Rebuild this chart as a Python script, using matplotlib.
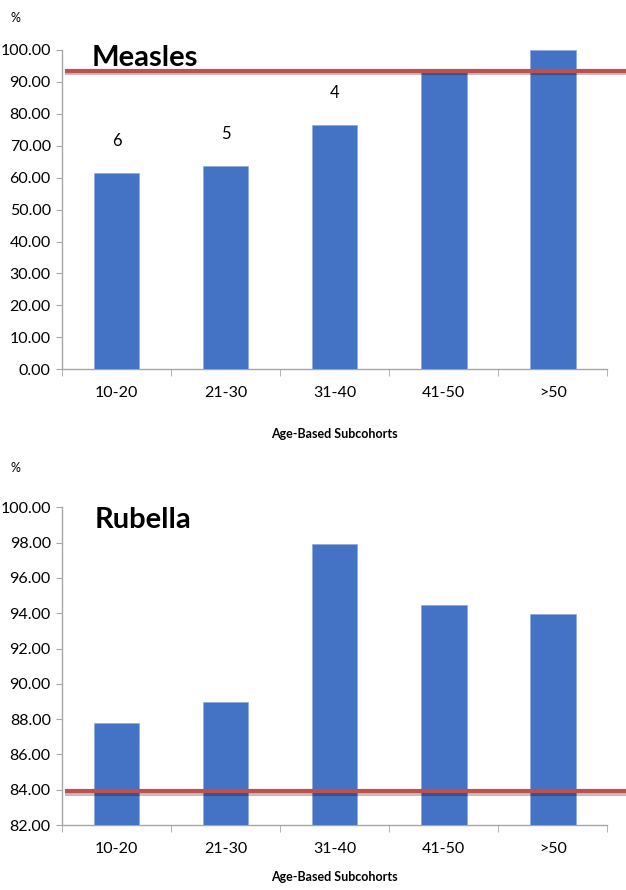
import numpy as np
import matplotlib.pyplot as plt
import matplotlib.patheffects as pe

plt.rcParams['font.family'] = ['Lato', 'DejaVu Sans']

groups = ['10-20', '21-30', '31-40', '41-50', '>50']
measles = [61.4, 63.6, 76.6, 93.5, 99.8]
measles_counts = ['6', '5', '4', '', '']
measles_target = 93.4
rubella = [87.8, 88.95, 97.9, 94.45, 93.97]
rubella_target = 83.9

bar_color = '#4472C4'
line_color = '#C0504D'
axis_color = '#A6A6A6'

fig = plt.figure(figsize=(6.26, 8.90), dpi=100)
ax1 = fig.add_axes([0.099, 0.585, 0.871, 0.359])
ax2 = fig.add_axes([0.099, 0.073, 0.871, 0.357])


def style(ax, ylim, step, labelpad):
    x = np.arange(len(groups))
    ax.set_xlim(-0.5, len(groups) - 0.5)
    ax.set_ylim(*ylim)
    ax.set_yticks(np.arange(ylim[0], ylim[1] + 0.01, step))
    ax.set_yticklabels(['%.2f' % v for v in np.arange(ylim[0], ylim[1] + 0.01, step)])
    ax.set_xticks(x)
    ax.set_xticklabels(groups)
    ax.set_xticks(np.arange(-0.5, len(groups)), minor=True)
    ax.tick_params(axis='x', which='major', length=0, pad=12, labelsize=11.5)
    ax.tick_params(axis='x', which='minor', length=5, color=axis_color, direction='out')
    ax.tick_params(axis='y', length=4, color=axis_color, labelsize=11.5, pad=4)
    for s in ['top', 'right']:
        ax.spines[s].set_visible(False)
    for s in ['left', 'bottom']:
        ax.spines[s].set_color(axis_color)
        ax.spines[s].set_linewidth(1.0)
    ax.set_xlabel('Age-Based Subcohorts', fontsize=9, fontweight='bold', labelpad=labelpad)


def target(ax, level):
    ax.plot([-0.47, 4.7], [level, level], color=line_color, lw=3, clip_on=False,
            solid_capstyle='butt', zorder=5,
            path_effects=[pe.SimpleLineShadow(offset=(0, -1.5), alpha=0.25), pe.Normal()])


x = np.arange(len(groups))

# measles
ax1.bar(x, measles, width=0.42, color=bar_color, edgecolor='#8EA9DB', linewidth=0.5, zorder=3)
style(ax1, (0, 100), 10, 20)
target(ax1, measles_target)
for xi, v, t in zip(x, measles, measles_counts):
    if t:
        ax1.annotate(t, (xi, v), xytext=(0, 23), textcoords='offset points',
                     ha='center', va='center', fontsize=12)
ax1.text(0.055, 0.975, 'Measles', transform=ax1.transAxes, fontsize=21,
         fontweight='bold', va='center', ha='left', zorder=6)
fig.text(0.025, 0.98, '%', fontsize=9, ha='center', va='center')

# rubella
ax2.bar(x, [v - 82 for v in rubella], bottom=82, width=0.42, color=bar_color,
        edgecolor='#8EA9DB', linewidth=0.5, zorder=3)
style(ax2, (82, 100), 2, 11)
target(ax2, rubella_target)
ax2.text(0.06, 0.96, 'Rubella', transform=ax2.transAxes, fontsize=21,
         fontweight='bold', va='center', ha='left', zorder=6)
fig.text(0.025, 0.474, '%', fontsize=9, ha='center', va='center')

fig.savefig('out.png', dpi=100, facecolor='white')
